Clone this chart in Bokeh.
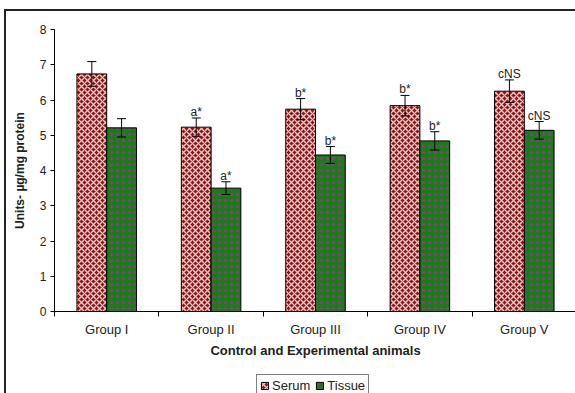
import numpy as np
from bokeh.plotting import figure
from bokeh.layouts import column
from bokeh.models import (Range1d, FixedTicker, Whisker, ColumnDataSource,
                          Legend, LegendItem)
from bokeh.core.properties import value
from bokeh.embed import file_html
from bokeh.resources import INLINE

# Data
groups = ["Group I", "Group II", "Group III", "Group IV", "Group V"]
serum = [6.74, 5.23, 5.74, 5.84, 6.25]
serum_err = [0.35, 0.26, 0.30, 0.29, 0.32]
tissue = [5.21, 3.50, 4.44, 4.84, 5.14]
tissue_err = [0.26, 0.18, 0.24, 0.26, 0.25]
serum_marks = ["", "a*", "b*", "b*", "cNS"]
tissue_marks = ["", "a*", "b*", "b*", "cNS"]
y_ticks = [0, 1, 2, 3, 4, 5, 6, 7, 8]
series_names = ["Serum", "Tissue"]

FONT = "Liberation Sans"
BAR_W = 0.285
SERUM_STYLE = dict(fill_color="#8C1414", line_color="black", line_width=1,
                   hatch_pattern="diagonal_cross", hatch_color="#F2C8C8",
                   hatch_scale=6, hatch_weight=1.4)
TISSUE_STYLE = dict(fill_color="#1E781E", line_color="black", line_width=1,
                    hatch_pattern="dot", hatch_color="#7A4A6A",
                    hatch_scale=6, hatch_weight=1.2)

centers = np.arange(len(groups)) + 0.5
serum_x = centers - BAR_W / 2
tissue_x = centers + BAR_W / 2

serum_src = ColumnDataSource(dict(
    x=serum_x, top=serum, upper=np.array(serum) + np.array(serum_err),
    lower=np.array(serum) - np.array(serum_err), mark=serum_marks))
tissue_src = ColumnDataSource(dict(
    x=tissue_x, top=tissue, upper=np.array(tissue) + np.array(tissue_err),
    lower=np.array(tissue) - np.array(tissue_err), mark=tissue_marks))

p = figure(width=571, height=362, x_range=Range1d(0, 5), y_range=Range1d(0, 8),
           output_backend="svg", toolbar_location=None,
           min_border_left=48, min_border_right=1, min_border_top=18,
           min_border_bottom=62)
p.outline_line_color = None
p.xgrid.grid_line_color = None
p.ygrid.grid_line_color = None
p.background_fill_color = "white"
p.border_fill_color = "white"

p.vbar(x="x", top="top", width=BAR_W, bottom=0, source=serum_src, **SERUM_STYLE)
p.vbar(x="x", top="top", width=BAR_W, bottom=0, source=tissue_src, **TISSUE_STYLE)

for src in (serum_src, tissue_src):
    w = Whisker(base="x", upper="upper", lower="lower", source=src,
                line_color="black", line_width=1, level="annotation")
    w.upper_head.size = 9
    w.lower_head.size = 9
    w.upper_head.line_color = "black"
    w.lower_head.line_color = "black"
    p.add_layout(w)
    p.text(x="x", y="upper", text="mark", source=src, text_align="center",
           text_baseline="alphabetic", y_offset=-6,
           text_font=value(FONT), text_font_size="12px", text_color="#222")

# Axes
xa = p.xaxis[0]
xa.ticker = FixedTicker(ticks=list(centers), minor_ticks=list(range(len(groups) + 1)))
xa.major_label_overrides = {float(c): g for c, g in zip(centers, groups)}
xa.major_tick_line_color = None
xa.major_tick_out = 0
xa.major_tick_in = 0
xa.minor_tick_line_color = "black"
xa.minor_tick_out = 5
xa.minor_tick_in = 0
xa.major_label_standoff = 5
xa.major_label_text_font = FONT
xa.major_label_text_font_size = "13px"
xa.major_label_text_color = "#222"
xa.axis_label = "Control and Experimental animals"
xa.axis_label_text_font = FONT
xa.axis_label_text_font_style = "bold"
xa.axis_label_text_font_size = "13px"
xa.axis_label_text_color = "#222"
xa.axis_label_standoff = 3
xa.axis_line_color = "black"

ya = p.yaxis[0]
ya.ticker = FixedTicker(ticks=y_ticks, minor_ticks=[])
ya.major_tick_out = 4
ya.major_tick_in = 0
ya.minor_tick_line_color = None
ya.major_label_standoff = 4
ya.major_label_text_font = FONT
ya.major_label_text_font_size = "12px"
ya.major_label_text_color = "#222"
ya.axis_label = "Units- µg/mg protein"
ya.axis_label_text_font = FONT
ya.axis_label_text_font_style = "bold"
ya.axis_label_text_font_size = "12px"
ya.axis_label_text_color = "#222"
ya.axis_label_standoff = 10
ya.axis_line_color = "black"

# Legend strip under the chart; its renderers only supply the swatch styles
lp = figure(width=571, height=22, x_range=Range1d(0, 1), y_range=Range1d(0, 1),
            output_backend="svg", toolbar_location=None,
            x_axis_type=None, y_axis_type=None, min_border=0)
lp.outline_line_color = None
lp.xgrid.grid_line_color = None
lp.ygrid.grid_line_color = None
swatch = dict(x=[np.nan], top=[np.nan])
r_serum = lp.vbar(x="x", top="top", width=0.1,
                  source=ColumnDataSource(swatch), **SERUM_STYLE)
r_tissue = lp.vbar(x="x", top="top", width=0.1,
                   source=ColumnDataSource(dict(swatch)), **TISSUE_STYLE)
legend = Legend(items=[LegendItem(label=series_names[0], renderers=[r_serum]),
                       LegendItem(label=series_names[1], renderers=[r_tissue])],
                orientation="horizontal", location=(202, -2),
                glyph_width=9, glyph_height=9, label_text_font=FONT,
                label_text_font_size="13px", label_text_color="#222",
                label_standoff=3, spacing=5, padding=3, margin=0,
                border_line_color="black", border_line_width=1,
                label_height=12, background_fill_color="white")
lp.add_layout(legend, "center")

layout = column(p, lp, spacing=0)
layout.margin = (9, 0, 0, 4)
layout.styles = {"border-top": "2px solid #222", "border-left": "2px solid #222"}

open("out.html", "w").write(file_html(layout, INLINE))
